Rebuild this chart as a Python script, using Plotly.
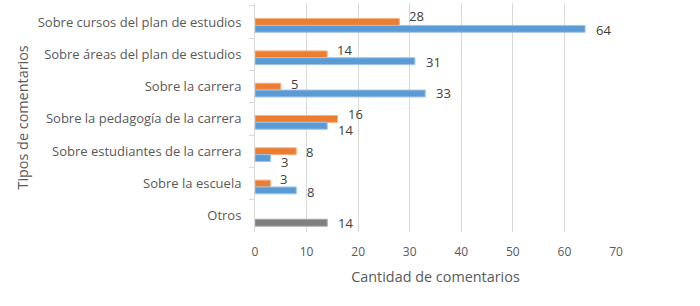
import plotly.graph_objects as go

categories = [
    "Sobre cursos del plan de estudios",
    "Sobre áreas del plan de estudios",
    "Sobre la carrera",
    "Sobre la pedagogía de la carrera",
    "Sobre estudiantes de la carrera",
    "Sobre la escuela",
    "Otros",
]
orange_values = [28, 14, 5, 16, 8, 3, None]
blue_values = [64, 31, 33, 14, 3, 8, 14]
x_ticks = [0, 10, 20, 30, 40, 50, 60, 70]

# styling (label vertical nudges in px, like the hand-placed labels)
orange_label_dy = [6, 4.5, 2.5, 4.5, -1, 5, 0]
blue_label_dy = [-8, -7.5, -6.5, -11.5, -11, -8, -7.5]

FONT = "Open Sans"
TXT = "#595959"
LBL = "#404040"
BAR_W = 7 / 33

blue_colors = ["#7F7F7F" if c == "Otros" else "#5B9BD5" for c in categories]
blue_lines = ["#A5A5A5" if c == "Otros" else "#9DC3E6" for c in categories]

fig = go.Figure()
fig.add_trace(go.Bar(
    y=categories, x=orange_values, orientation="h",
    width=BAR_W, offset=-BAR_W / 2,
    marker=dict(color="#ED7D31", line=dict(color="#F4B183", width=1)),
    showlegend=False, hoverinfo="x+y",
))
fig.add_trace(go.Bar(
    y=categories, x=blue_values, orientation="h",
    width=BAR_W, offset=BAR_W / 2,
    marker=dict(color=blue_colors, line=dict(color=blue_lines, width=1)),
    showlegend=False, hoverinfo="x+y",
))

annotations = []
for i, c in enumerate(categories):
    if orange_values[i] is not None:
        annotations.append(dict(
            x=orange_values[i], y=c, xref="x", yref="y", text=str(orange_values[i]),
            showarrow=False, xanchor="left", yanchor="middle", xshift=8,
            yshift=orange_label_dy[i], font=dict(family=FONT, size=13, color=LBL)))
    if blue_values[i] is not None:
        annotations.append(dict(
            x=blue_values[i], y=c, xref="x", yref="y", text=str(blue_values[i]),
            showarrow=False, xanchor="left", yanchor="middle", xshift=9,
            yshift=blue_label_dy[i], font=dict(family=FONT, size=13, color=LBL)))

annotations.append(dict(
    x=-233 / 361, y=0.5, xref="paper", yref="paper", text="Tipos de comentarios",
    showarrow=False, textangle=-90, xanchor="center", yanchor="middle",
    font=dict(family=FONT, size=14.4, color=TXT)))

fig.update_layout(
    width=700, height=306,
    margin=dict(l=255, r=84, t=3, b=74),
    paper_bgcolor="white", plot_bgcolor="white",
    barmode="overlay",
    font=dict(family=FONT, color=TXT),
    annotations=annotations,
    xaxis=dict(
        range=[0, 70], tickvals=x_ticks, ticktext=[str(t) for t in x_ticks],
        showgrid=True, gridcolor="#D9D9D9", gridwidth=1, zeroline=False,
        showline=False, ticks="", tickfont=dict(family=FONT, size=12, color=TXT),
        ticklabelstandoff=11,
        title=dict(text="Cantidad de comentarios", font=dict(family=FONT, size=14.4, color=TXT), standoff=12),
        fixedrange=True,
    ),
    yaxis=dict(
        categoryorder="array", categoryarray=categories, autorange="reversed",
        showline=True, linecolor="#D9D9D9", linewidth=1,
        ticks="outside", tickson="boundaries", ticklen=5, tickcolor="#D9D9D9",
        ticklabelstandoff=10,
        showgrid=False, tickfont=dict(family=FONT, size=13, color=TXT),
        fixedrange=True,
    ),
)

fig.write_html("out.html", config={"displayModeBar": False},
               post_script="document.body.style.margin='0px';")
